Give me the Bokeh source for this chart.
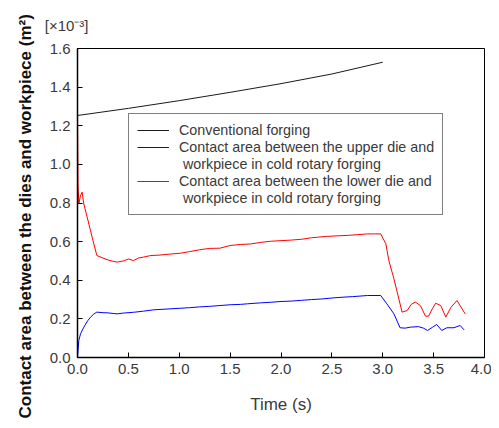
from bokeh.plotting import figure
from bokeh.models import Range1d, Legend, LegendItem, Title, FixedTicker
from bokeh.embed import file_html
from bokeh.resources import INLINE

# ---- data ----
t_conv = [0.0, 0.5, 1.0, 1.5, 2.0, 2.5, 3.0]
a_conv = [1.253, 1.290, 1.330, 1.373, 1.418, 1.468, 1.529]

t_upper = [0.0, 0.013, 0.03, 0.062, 0.10, 0.128, 0.16, 0.19, 0.25, 0.30, 0.35, 0.39, 0.45,
           0.55, 0.65, 0.75, 0.85, 1.01, 1.10, 1.20, 1.30, 1.40, 1.50, 1.60, 1.67, 1.80,
           1.90, 2.00, 2.10, 2.20, 2.30, 2.40, 2.52, 2.60, 2.70, 2.85, 2.98, 3.04, 3.11,
           3.17, 3.22, 3.27, 3.35, 3.40, 3.44, 3.49, 3.53, 3.58, 3.63, 3.70, 3.76, 3.80]
a_upper = [0.0, 0.088, 0.123, 0.157, 0.190, 0.209, 0.225, 0.235, 0.232, 0.231, 0.228, 0.226, 0.230,
           0.234, 0.240, 0.247, 0.250, 0.255, 0.258, 0.262, 0.265, 0.269, 0.273, 0.275, 0.278, 0.283,
           0.286, 0.290, 0.292, 0.296, 0.300, 0.303, 0.309, 0.312, 0.315, 0.321, 0.321, 0.278, 0.226,
           0.154, 0.152, 0.157, 0.160, 0.152, 0.140, 0.157, 0.171, 0.140, 0.154, 0.154, 0.166, 0.143]

t_lower = [0.0, 0.005, 0.013, 0.03, 0.046, 0.06, 0.095, 0.144, 0.19, 0.25, 0.30, 0.35, 0.39,
           0.45, 0.50, 0.55, 0.60, 0.65, 0.72, 0.80, 0.90, 1.01, 1.10, 1.20, 1.30, 1.40, 1.50,
           1.60, 1.70, 1.80, 1.90, 2.00, 2.10, 2.20, 2.30, 2.36, 2.45, 2.55, 2.65, 2.75, 2.85,
           2.92, 2.98, 3.03, 3.06, 3.11, 3.19, 3.24, 3.28, 3.32, 3.37, 3.42, 3.45, 3.49, 3.52,
           3.57, 3.62, 3.67, 3.73, 3.76, 3.81]
a_lower = [1.253, 0.900, 0.795, 0.840, 0.856, 0.800, 0.727, 0.623, 0.528, 0.515, 0.505, 0.498, 0.494,
           0.500, 0.510, 0.502, 0.515, 0.520, 0.528, 0.530, 0.535, 0.540, 0.548, 0.558, 0.565, 0.566, 0.580,
           0.585, 0.588, 0.596, 0.602, 0.605, 0.608, 0.612, 0.620, 0.623, 0.627, 0.630, 0.632, 0.636, 0.640,
           0.640, 0.640, 0.589, 0.502, 0.407, 0.235, 0.243, 0.275, 0.287, 0.269, 0.214, 0.214, 0.255, 0.281,
           0.269, 0.209, 0.260, 0.295, 0.269, 0.226]

x_ticks = [0.0, 0.5, 1.0, 1.5, 2.0, 2.5, 3.0, 3.5, 4.0]
y_ticks = [0.0, 0.2, 0.4, 0.6, 0.8, 1.0, 1.2, 1.4, 1.6]

labels = ["Conventional forging",
          "Contact area between the upper die and",
          " workpiece in cold rotary forging",
          "Contact area between the lower die and",
          " workpiece in cold rotary forging"]

FONT = "Liberation Sans"
TXT = "#3a3a3a"
W, H = 491, 420

p = figure(width=W, height=H, output_backend="svg", toolbar_location=None,
           x_range=Range1d(0, 4), y_range=Range1d(0, 1.6),
           min_border_left=77, min_border_right=7, min_border_top=48, min_border_bottom=63)
p.background_fill_color = "white"
p.border_fill_color = "white"
p.outline_line_color = "black"
p.outline_line_width = 1
p.xgrid.visible = False
p.ygrid.visible = False

r_conv = p.line(t_conv, a_conv, line_color="#1a1a1a", line_width=1)
r_up = p.line(t_upper, a_upper, line_color="#0000ff", line_width=1)
r_lo = p.line(t_lower, a_lower, line_color="#ff0000", line_width=1)
r_blank = p.line(t_conv, a_conv, line_color="white", line_alpha=0.0, line_width=1)

for ax in (p.xaxis[0], p.yaxis[0]):
    ax.major_tick_in = 5
    ax.major_tick_out = 0
    ax.minor_tick_line_color = None
    ax.axis_line_color = "black"
    ax.axis_line_width = 1.5
    ax.major_tick_line_color = "black"
    ax.major_label_text_font = FONT
    ax.major_label_text_font_size = "15px"
    ax.major_label_text_color = TXT

p.xaxis[0].ticker = FixedTicker(ticks=x_ticks)
p.yaxis[0].ticker = FixedTicker(ticks=y_ticks)
p.xaxis[0].major_label_overrides = {v: f"{v:.1f}" for v in x_ticks}
p.yaxis[0].major_label_overrides = {v: f"{v:.1f}" for v in y_ticks}
p.xaxis[0].major_label_standoff = 6
p.yaxis[0].major_label_standoff = 7

p.xaxis[0].axis_label = "Time (s)"
p.xaxis[0].axis_label_text_font = FONT
p.xaxis[0].axis_label_text_font_size = "17px"
p.xaxis[0].axis_label_text_font_style = "normal"
p.xaxis[0].axis_label_text_color = TXT
p.xaxis[0].axis_label_standoff = 18

ytitle = Title(text="Contact area between the dies and workpiece (m\u00b2)",
               align="left", offset=-61, standoff=24,
               text_font=FONT, text_font_size="17px", text_font_style="bold",
               text_color="#111111")
p.add_layout(ytitle, "left")

mult = Title(text="[\u00d710\u207b\u00b3]", align="right", offset=396, standoff=25,
             vertical_align="top",
             text_font=FONT, text_font_size="15px", text_font_style="normal",
             text_color=TXT)
p.add_layout(mult, "above")

items = [LegendItem(label=labels[0], renderers=[r_conv]),
         LegendItem(label=labels[1], renderers=[r_up]),
         LegendItem(label=labels[2], renderers=[r_blank]),
         LegendItem(label=labels[3], renderers=[r_lo]),
         LegendItem(label=labels[4], renderers=[r_blank])]
legend = Legend(items=items, location=(51, 142), orientation="vertical",
                label_text_font=FONT, label_text_font_size="14.3px", label_text_color=TXT,
                glyph_width=32, glyph_height=16, label_standoff=10, spacing=1,
                padding=8, margin=0, label_height=16,
                border_line_color="black", border_line_width=1,
                background_fill_color="white", background_fill_alpha=1.0)
p.add_layout(legend, "center")

open("out.html", "w").write(file_html(p, INLINE))
